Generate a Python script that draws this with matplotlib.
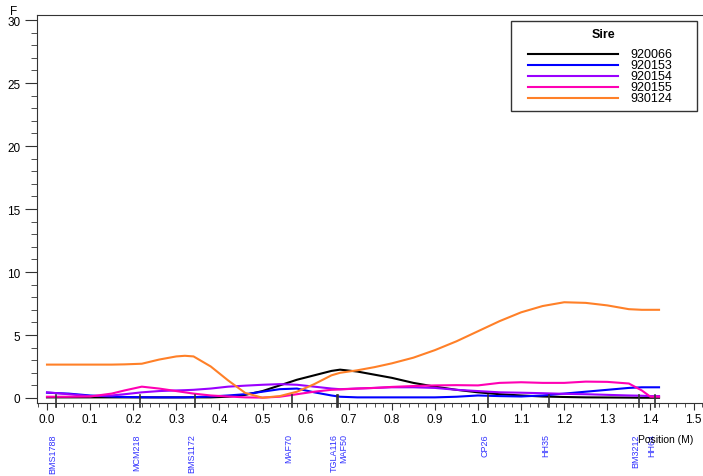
import matplotlib
matplotlib.use('Agg')
import matplotlib.pyplot as plt
from matplotlib.ticker import MultipleLocator
from matplotlib.patches import Rectangle
from matplotlib.lines import Line2D

plt.rcParams['font.family'] = ['Liberation Sans', 'DejaVu Sans']

# positions along the chromosome (M)
pos = [0.00, 0.05, 0.10, 0.15, 0.18, 0.22, 0.26, 0.30, 0.32, 0.34, 0.38, 0.42,
       0.46, 0.50, 0.54, 0.58, 0.62, 0.66, 0.68, 0.72, 0.76, 0.80, 0.85, 0.90,
       0.95, 1.00, 1.05, 1.10, 1.15, 1.20, 1.25, 1.30, 1.35, 1.38, 1.40, 1.42]

sires = ['920066', '920153', '920154', '920155', '930124']

f_920066 = [0.05, 0.05, 0.05, 0.05, 0.05, 0.05, 0.05, 0.05, 0.05, 0.05, 0.05, 0.1,
            0.25, 0.55, 1.0, 1.45, 1.8, 2.15, 2.25, 2.1, 1.85, 1.6, 1.2, 0.9,
            0.65, 0.45, 0.3, 0.2, 0.12, 0.08, 0.05, 0.04, 0.03, 0.02, 0.02, 0.02]
f_920153 = [0.42, 0.35, 0.2, 0.12, 0.08, 0.06, 0.05, 0.05, 0.05, 0.07, 0.12, 0.2,
            0.3, 0.5, 0.7, 0.75, 0.45, 0.2, 0.1, 0.05, 0.05, 0.05, 0.05, 0.05,
            0.1, 0.2, 0.15, 0.12, 0.2, 0.35, 0.5, 0.65, 0.8, 0.85, 0.85, 0.85]
f_920154 = [0.45, 0.3, 0.15, 0.2, 0.3, 0.45, 0.55, 0.6, 0.62, 0.65, 0.75, 0.9,
            0.98, 1.05, 1.1, 1.05, 0.9, 0.75, 0.7, 0.75, 0.8, 0.85, 0.85, 0.8,
            0.65, 0.55, 0.45, 0.42, 0.38, 0.33, 0.3, 0.25, 0.2, 0.18, 0.15, 0.15]
f_920155 = [0.1, 0.1, 0.12, 0.35, 0.6, 0.9, 0.75, 0.55, 0.45, 0.35, 0.2, 0.12,
            0.05, 0.03, 0.1, 0.3, 0.5, 0.65, 0.68, 0.75, 0.8, 0.88, 0.95, 1.0,
            1.02, 1.0, 1.2, 1.25, 1.2, 1.2, 1.3, 1.28, 1.15, 0.6, 0.1, 0.1]
f_930124 = [2.65, 2.65, 2.65, 2.65, 2.67, 2.72, 3.05, 3.3, 3.35, 3.3, 2.5, 1.4,
            0.4, 0.02, 0.15, 0.5, 1.1, 1.8, 2.0, 2.2, 2.45, 2.75, 3.2, 3.8,
            4.5, 5.3, 6.1, 6.8, 7.3, 7.6, 7.55, 7.35, 7.05, 7.0, 7.0, 7.0]

markers = ['BMS1788', 'MCM218', 'BMS1172', 'MAF70', 'TGLA116', 'MAF50',
           'CP26', 'HH35', 'BM3212', 'HH64']
marker_pos = [0.02, 0.216, 0.343, 0.569, 0.673, 0.675, 1.023, 1.165, 1.374, 1.41]

colors = ['black', '#0000ff', '#9a00ff', '#ff00b4', '#ff8028']

W, H = 703, 477
fig = plt.figure(figsize=(W / 100, H / 100), dpi=100)
ax = fig.add_axes([37/W, 1 - 404/H, 666/W, 388/H])

series = [f_920066, f_920153, f_920154, f_920155, f_930124]
for name, vals, col in zip(sires, series, colors):
    ax.plot(pos, vals, color=col, lw=1.5, label=name)

ax.set_xlim(-0.0232, 1.522)
ax.set_ylim(-0.397, 30.4)
ax.xaxis.set_minor_locator(MultipleLocator(0.02))
ax.yaxis.set_major_locator(MultipleLocator(5))
ax.yaxis.set_minor_locator(MultipleLocator(1))
ax.set_xticks([i / 10 for i in range(16)])
ax.set_xticklabels(['%.1f' % (i / 10) for i in range(16)])
ax.tick_params(axis='x', which='major', length=5, labelsize=8.5, pad=2.5, color='#333333')
ax.tick_params(axis='x', which='minor', length=3, color='#333333')
ax.tick_params(axis='y', which='major', length=8.5, labelsize=8.5, color='#333333')
ax.tick_params(axis='y', which='minor', length=4.5, color='#333333')
ax.spines['right'].set_visible(False)
for s in ['left', 'top', 'bottom']:
    ax.spines[s].set_color('#333333')

# marker ticks and names
trans = ax.get_xaxis_transform()
prev = None
for name, mp in zip(markers, marker_pos):
    ax.plot([mp, mp], [-0.01, 0.02], color='#333333', lw=1.2, transform=trans,
            clip_on=False)
    lx = mp
    if prev is not None and lx - prev < 0.02:
        lx = prev + 0.024
    prev = lx
    ax.text(lx + 0.003, -0.078, name, rotation=90, ha='right', va='top',
            fontsize=6.5, color='#3333ff', transform=trans)

fig.text(14/W, 1 - 12/H, 'F', ha='center', va='center', fontsize=8.5)
ax.text(1.499, -0.092, 'Position (M)', ha='right', va='center', fontsize=7.5,
        transform=trans)

# legend box drawn by hand to match the original layout
def fx(px):
    return px / W

def fy(py):
    return 1 - py / H

fig.add_artist(Rectangle((fx(511), fy(112)), 186/W, 90/H, transform=fig.transFigure,
                         facecolor='white', edgecolor='#333333', lw=1.0))
fig.text(fx(603), fy(35), 'Sire', ha='center', va='center', fontsize=9,
         fontweight='bold')
for i, (name, col) in enumerate(zip(sires, colors)):
    yy = fy(55 + 11 * i)
    fig.add_artist(Line2D([fx(528), fx(618)], [yy, yy], color=col, lw=1.5,
                          transform=fig.transFigure))
    fig.text(fx(630), yy, name, ha='left', va='center', fontsize=9)

fig.savefig('out.png', dpi=100)
